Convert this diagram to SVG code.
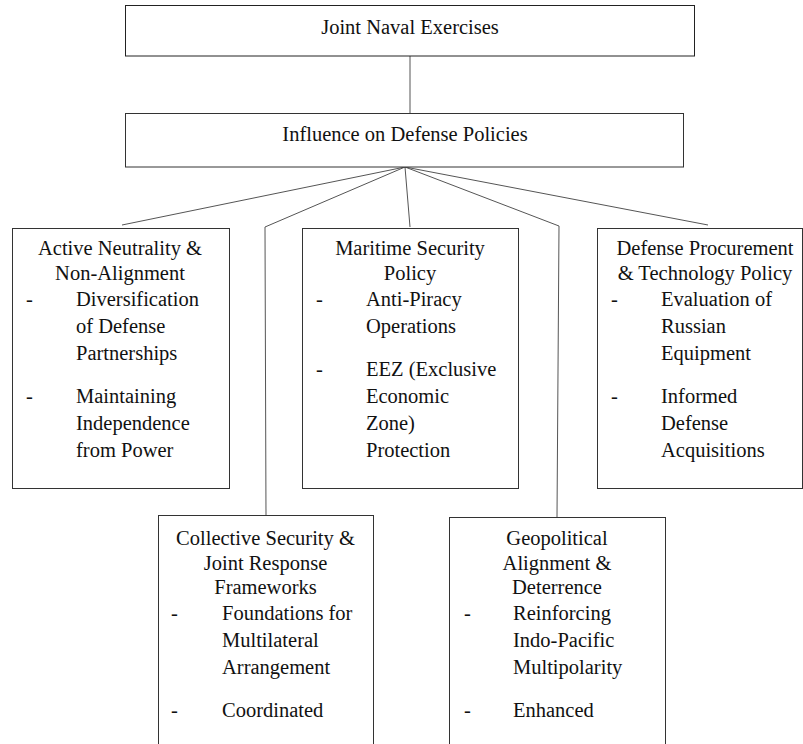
<svg xmlns="http://www.w3.org/2000/svg" width="803" height="744" viewBox="0 0 803 744">
<style>
rect{fill:#fff;stroke:#333;stroke-width:1}
.c{fill:none;stroke:#555;stroke-width:1}
text{font-family:"Liberation Serif","Times New Roman",serif;font-size:20.5px;fill:#111}
.m{text-anchor:middle}
</style>
<rect width="803" height="744" style="stroke:none"/>
<g id="connectors">
<path class="c" d="M410,56 V113"/>
<path class="c" d="M405,167 L122,225"/>
<path class="c" d="M405,167 L265,227 L266,516"/>
<path class="c" d="M405,167 L410,227"/>
<path class="c" d="M405,167 L559,226 L557,517"/>
<path class="c" d="M405,167 L708,225"/>
</g>
<g id="n1">
<rect x="125.5" y="5.5" width="569" height="50.5" style="stroke:#222"/>
<text class="m" x="410" y="34">Joint Naval Exercises</text>
</g>
<g id="n2">
<rect x="125.5" y="113.5" width="558" height="53.5"/>
<text class="m" x="405" y="141">Influence on Defense Policies</text>
</g>
<g id="n3">
<rect x="12.5" y="228.5" width="217" height="260"/>
<text class="m" x="120" y="255">Active Neutrality &amp;</text>
<text class="m" x="120" y="280">Non-Alignment</text>
<text x="26" y="306">-</text>
<text x="76" y="306">Diversification</text>
<text x="76" y="333">of Defense</text>
<text x="76" y="360">Partnerships</text>
<text x="26" y="403">-</text>
<text x="76" y="403">Maintaining</text>
<text x="76" y="430">Independence</text>
<text x="76" y="457">from Power</text>
</g>
<g id="n4">
<rect x="302.5" y="228.5" width="216" height="260"/>
<text class="m" x="410" y="255">Maritime Security</text>
<text class="m" x="410" y="280">Policy</text>
<text x="316" y="306">-</text>
<text x="366" y="306">Anti-Piracy</text>
<text x="366" y="333">Operations</text>
<text x="316" y="376">-</text>
<text x="366" y="376">EEZ (Exclusive</text>
<text x="366" y="403">Economic</text>
<text x="366" y="430">Zone)</text>
<text x="366" y="457">Protection</text>
</g>
<g id="n5">
<rect x="597.5" y="228.5" width="205" height="260"/>
<text class="m" x="705" y="255">Defense Procurement</text>
<text class="m" x="705" y="280">&amp; Technology Policy</text>
<text x="611" y="306">-</text>
<text x="661" y="306">Evaluation of</text>
<text x="661" y="333">Russian</text>
<text x="661" y="360">Equipment</text>
<text x="611" y="403">-</text>
<text x="661" y="403">Informed</text>
<text x="661" y="430">Defense</text>
<text x="661" y="457">Acquisitions</text>
</g>
<g id="n6">
<rect x="158.5" y="515.5" width="215" height="240"/>
<text class="m" x="265.5" y="545">Collective Security &amp;</text>
<text class="m" x="265.5" y="570">Joint Response</text>
<text class="m" x="265.5" y="594">Frameworks</text>
<text x="171" y="620">-</text>
<text x="222" y="620">Foundations for</text>
<text x="222" y="647">Multilateral</text>
<text x="222" y="674">Arrangement</text>
<text x="171" y="717">-</text>
<text x="222" y="717">Coordinated</text>
</g>
<g id="n7">
<rect x="449.5" y="517.5" width="216" height="240"/>
<text class="m" x="557" y="545">Geopolitical</text>
<text class="m" x="557" y="570">Alignment &amp;</text>
<text class="m" x="557" y="594">Deterrence</text>
<text x="464" y="620">-</text>
<text x="513" y="620">Reinforcing</text>
<text x="513" y="647">Indo-Pacific</text>
<text x="513" y="674">Multipolarity</text>
<text x="464" y="717">-</text>
<text x="513" y="717">Enhanced</text>
</g>
</svg>
